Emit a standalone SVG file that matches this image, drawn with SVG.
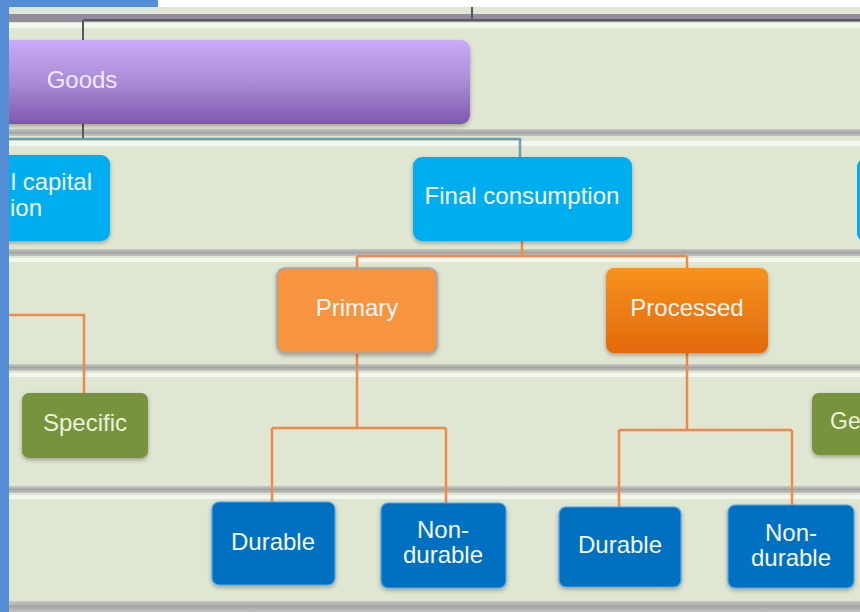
<svg xmlns="http://www.w3.org/2000/svg" width="860" height="612" viewBox="0 0 860 612">
<defs>
<linearGradient id="gGoods" x1="0" y1="0" x2="0" y2="1"><stop offset="0" stop-color="#cbaaf7"/><stop offset="0.5" stop-color="#a98bd6"/><stop offset="1" stop-color="#7f58ae"/></linearGradient>
<linearGradient id="gProc" x1="0" y1="0" x2="0" y2="1"><stop offset="0" stop-color="#f7921f"/><stop offset="1" stop-color="#e2690c"/></linearGradient>
<linearGradient id="gSep" x1="0" y1="0" x2="0" y2="1"><stop offset="0" stop-color="#c8cac0"/><stop offset="0.5" stop-color="#a4a4a8"/><stop offset="1" stop-color="#c4c6be"/></linearGradient>
<filter id="sh" x="-10%" y="-10%" width="120%" height="130%"><feDropShadow dx="0" dy="2" stdDeviation="2" flood-color="#000" flood-opacity="0.3"/></filter>
</defs>
<style>
.band{fill:#dfe6d1}
.sep{fill:url(#gSep)}
.hl{fill:#f3f6ec}
.t{font-family:"Liberation Sans",Arial,sans-serif;font-size:24px;fill:#f6f6f6;text-anchor:middle}
.cyan{fill:#00aeef}
.blue{fill:#0070c0;stroke:#4fa6ea;stroke-width:1.2}
.green{fill:#77933c}
.oc{stroke:#ee8a4c;stroke-width:2.5;fill:none}
.dc{stroke:#555a60;stroke-width:2;fill:none}
.bc{stroke:#6e9cae;stroke-width:2.5;fill:none}
</style>
<!-- background bands -->
<rect x="0" y="0" width="860" height="612" class="band"/>
<rect x="158" y="0" width="702" height="7" fill="#ffffff"/>
<rect x="0" y="14" width="860" height="8" fill="#938c9c"/>
<rect x="0" y="23" width="860" height="5" class="hl"/>
<rect x="0" y="129" width="860" height="7" class="sep"/>
<rect x="0" y="141" width="860" height="5" class="hl"/>
<rect x="0" y="249" width="860" height="7" class="sep"/>
<rect x="0" y="258" width="860" height="4" class="hl"/>
<rect x="0" y="364" width="860" height="7" class="sep"/>
<rect x="0" y="373" width="860" height="4" class="hl"/>
<rect x="0" y="486" width="860" height="7" class="sep"/>
<rect x="0" y="495" width="860" height="4" class="hl"/>
<rect x="0" y="601" width="860" height="11" class="sep"/>

<g id="connectors">
<path class="dc" d="M472 7V20M83 20H860M83 20V40"/>
<path class="dc" d="M83 124V140"/>
<path class="bc" d="M9 139H520V157"/>
<path class="oc" d="M522 241V256M357 256H687M357 256V268M687 256V268"/>
<path class="oc" d="M9 315H84V393"/>
<path class="oc" d="M357 353V428M272 428H446M272 428V502M446 428V503"/>
<path class="oc" d="M687 353V430M619 430H792M619 430V507M792 430V505"/>
</g>

<g id="goods"><rect x="-20" y="40" width="490" height="84" rx="9" fill="url(#gGoods)" filter="url(#sh)"/><text x="82" y="88" class="t" style="fill:#f1e9ff">Goods</text></g>
<g id="capital-formation"><rect x="-20" y="155" width="130" height="86" rx="9" class="cyan" filter="url(#sh)"/><text x="92" y="190" class="t" style="text-anchor:end">l capital</text><text x="10" y="216" class="t" style="text-anchor:start">ion</text></g>
<g id="final-consumption"><rect x="413" y="157" width="219" height="84" rx="9" class="cyan" filter="url(#sh)"/><text x="522" y="204" class="t">Final consumption</text></g>
<g id="right-cyan"><rect x="857" y="160" width="20" height="80" rx="6" class="cyan"/></g>
<g id="primary"><rect x="277" y="268" width="160" height="85" rx="8" fill="#f7943f" stroke="#9aa7bb" stroke-width="1.5" filter="url(#sh)"/><text x="357" y="316" class="t">Primary</text></g>
<g id="processed"><rect x="606" y="268" width="162" height="85" rx="8" fill="url(#gProc)" filter="url(#sh)"/><text x="687" y="316" class="t">Processed</text></g>
<g id="specific"><rect x="22" y="393" width="126" height="65" rx="7" class="green" filter="url(#sh)"/><text x="85" y="431" class="t" style="fill:#eaf2dc">Specific</text></g>
<g id="general"><rect x="812" y="393" width="60" height="62" rx="7" class="green" filter="url(#sh)"/><text x="830" y="429" class="t" style="text-anchor:start;fill:#eaf2dc;font-size:23px">Ge</text></g>
<g id="durable-1"><rect x="212" y="502" width="123" height="83" rx="7" class="blue" filter="url(#sh)"/><text x="273" y="550" class="t">Durable</text></g>
<g id="nondurable-1"><rect x="381" y="503" width="125" height="85" rx="7" class="blue" filter="url(#sh)"/><text x="443" y="538" class="t">Non-</text><text x="443" y="563" class="t">durable</text></g>
<g id="durable-2"><rect x="559" y="507" width="122" height="80" rx="7" class="blue" filter="url(#sh)"/><text x="620" y="553" class="t">Durable</text></g>
<g id="nondurable-2"><rect x="728" y="505" width="126" height="83" rx="7" class="blue" filter="url(#sh)"/><text x="791" y="541" class="t">Non-</text><text x="791" y="566" class="t">durable</text></g>

<!-- frame -->
<rect x="0" y="0" width="9" height="612" fill="#558ed5"/>
<rect x="0" y="0" width="158" height="7" fill="#558ed5"/>
</svg>
